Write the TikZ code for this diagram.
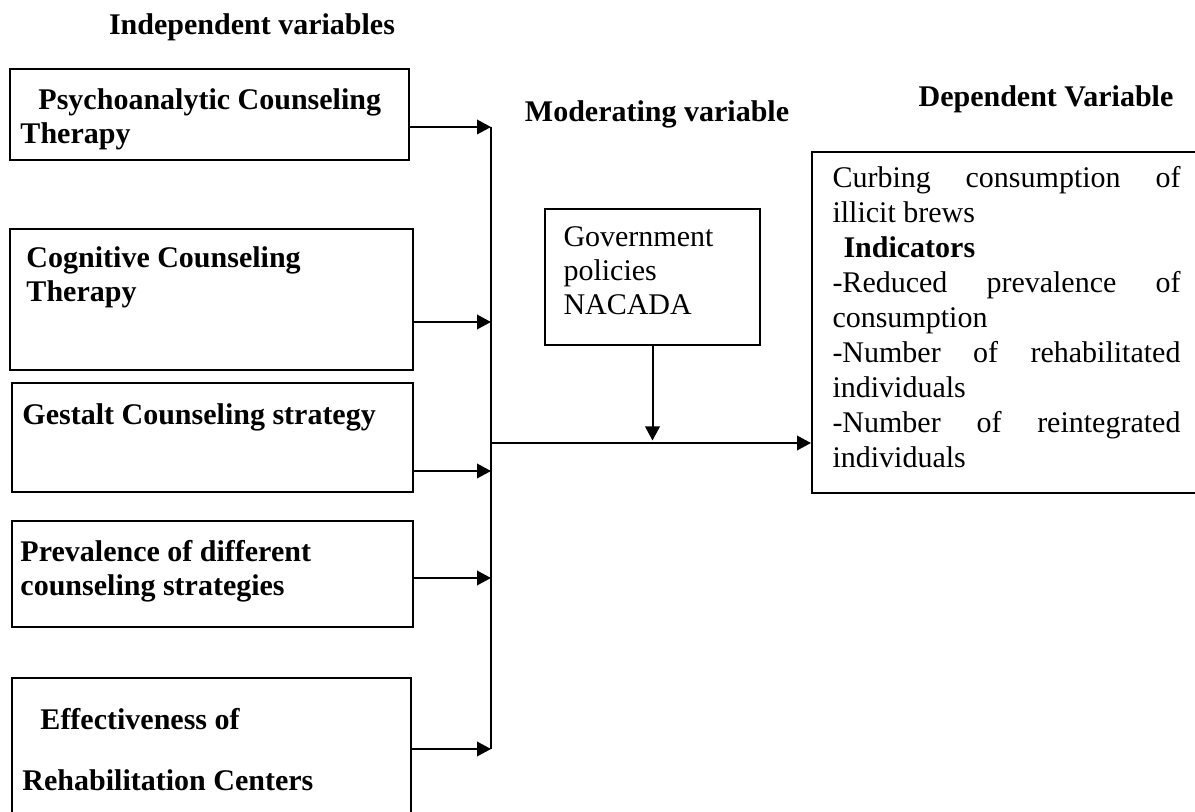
\documentclass[tikz,border=0pt]{standalone}
\usepackage{fontspec}
\setmainfont{Liberation Serif}
\usetikzlibrary{fit,arrows.meta}
\begin{document}
\begin{tikzpicture}[x=0.4pt,y=-0.4pt,
  box/.style={draw, line width=0.8pt, inner sep=0pt},
  txt/.style={anchor=base west, inner sep=0pt, font=\fontsize{12pt}{14pt}\selectfont},
  btxt/.style={anchor=base west, inner sep=0pt, font=\fontsize{12pt}{14pt}\selectfont\bfseries},
  ttl/.style={anchor=base, inner sep=0pt, font=\fontsize{12pt}{14pt}\selectfont\bfseries},
  arr/.style={-{Triangle[length=5.6pt,width=5.8pt]}, line width=0.8pt},
  ln/.style={line width=0.8pt}]
\useasboundingbox (0,0) rectangle (1195,812);

% titles
\node[ttl] (t1) at (252,35) {Independent variables};
\node[ttl] (t2) at (657,122) {Moderating variable};
\node[ttl] (t3) at (1046,107) {Dependent Variable};

% independent boxes
\node[box, fit={(10,69) (409,160)}] (b1) {};
\node[box, fit={(10,229) (413,370)}] (b2) {};
\node[box, fit={(12,383) (413,492)}] (b3) {};
\node[box, fit={(12,521) (413,627)}] (b4) {};
\node[box, fit={(12,678) (411,830)}] (b5) {};

\node[btxt] (b1a) at (38,110) {Psychoanalytic Counseling};
\node[btxt] (b1b) at (20,144) {Therapy};
\node[btxt] (b2a) at (26,268) {Cognitive Counseling};
\node[btxt] (b2b) at (26,302) {Therapy};
\node[btxt] (b3a) at (22,425) {Gestalt Counseling strategy};
\node[btxt] (b4a) at (20,562) {Prevalence of different};
\node[btxt] (b4b) at (20,596) {counseling strategies};
\node[btxt] (b5a) at (40,730) {Effectiveness of};
\node[btxt] (b5b) at (22,790) {Rehabilitation Centers};

% moderating box
\node[box, fit={(545,209) (760,345)}] (mod) {};
\node[txt] (m1) at (563,247) {Government};
\node[txt] (m2) at (563,281) {policies};
\node[txt] (m3) at (563,315) {NACADA};

% dependent box
\node[box, fit={(812,152) (1210,493)}] (dep) {};
\node[txt] (d1) at (832,188) {\makebox[139.2pt][l]{Curbing\hfill consumption\hfill of}};
\node[txt] (d2) at (832,223) {illicit brews};
\node[btxt] (d3) at (843,258) {Indicators};
\node[txt] (d4) at (832,293) {\makebox[139.2pt][l]{-Reduced\hfill prevalence\hfill of}};
\node[txt] (d5) at (832,328) {consumption};
\node[txt] (d6) at (832,363) {\makebox[139.2pt][l]{-Number\hfill of\hfill rehabilitated}};
\node[txt] (d7) at (832,398) {individuals};
\node[txt] (d8) at (832,433) {\makebox[139.2pt][l]{-Number\hfill of\hfill reintegrated}};
\node[txt] (d9) at (832,468) {individuals};

% bus
\coordinate (j1) at (491,127);
\coordinate (j2) at (491,322);
\coordinate (j3) at (491,471);
\coordinate (j4) at (491,578);
\coordinate (j5) at (491,749);
\coordinate (jm) at (491,443);
\draw[ln] (j1) -- (j5);
\draw[arr] (b1.east |- j1) -- (j1);
\draw[arr] (b2.east |- j2) -- (j2);
\draw[arr] (b3.east |- j3) -- (j3);
\draw[arr] (b4.east |- j4) -- (j4);
\draw[arr] (b5.east |- j5) -- (j5);
\draw[arr] (jm) -- (dep.west |- jm);
\draw[arr, shorten >=1pt] (mod.south) -- (mod.south |- jm);
\end{tikzpicture}
\end{document}
